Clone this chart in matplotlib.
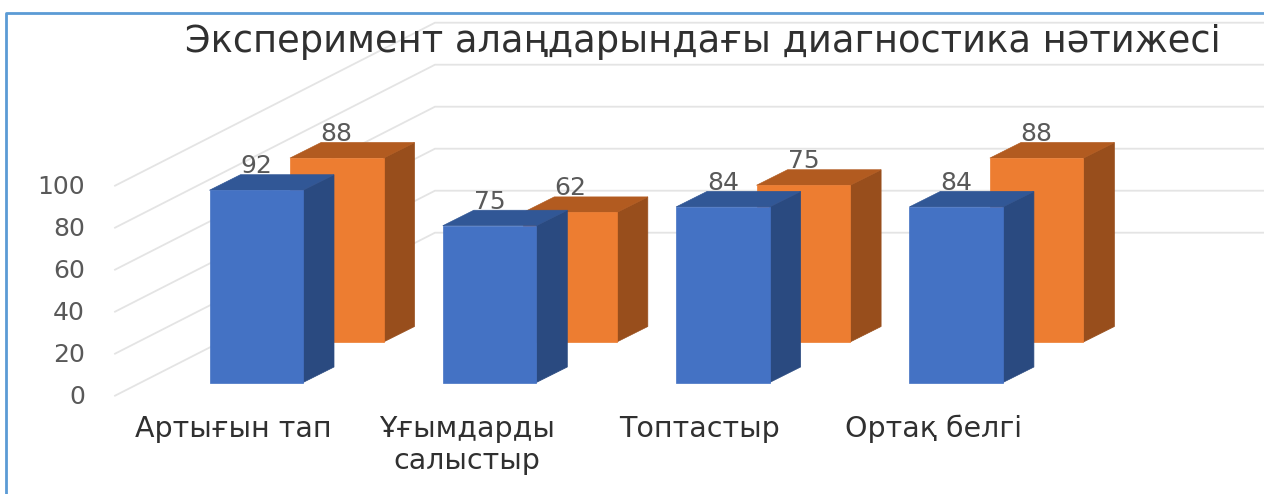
import matplotlib
matplotlib.use("Agg")
import matplotlib.pyplot as plt
from matplotlib.patches import Polygon

plt.rcParams['font.family'] = ['DejaVu Sans']

categories = ['Артығын тап', 'Ұғымдарды\nсалыстыр', 'Топтастыр', 'Ортақ белгі']
front_values = [92, 75, 84, 84]
back_values = [88, 62, 75, 88]
y_ticks = [0, 20, 40, 60, 80, 100]
title = 'Эксперимент алаңдарындағы диагностика нәтижесі'

# one category = 233.3 px, one value unit = 2.09 px, blue bar base is the origin
PX_X = 233.3
PX_Y = 2.09
BAR_W = 93.5 / PX_X
DEPTH_X = 31 / PX_X
DEPTH_Y = 15.5 / PX_Y
ROW_X = 80.5 / PX_X
ROW_Y = 40.5 / PX_Y

fig = plt.figure(figsize=(12.64, 4.94), dpi=100)
ax = fig.add_axes([0, 0, 1, 1])
ax.set_xlim(-209.5 / PX_X, (1264 - 209.5) / PX_X)
ax.set_ylim(-(494 - 382.5) / PX_Y, 382.5 / PX_Y)
ax.axis('off')


def draw_bar(x, base, value, front, top, side, z):
    h = base + value
    ax.add_patch(Polygon([(x + BAR_W, base), (x + BAR_W + DEPTH_X, base + DEPTH_Y), (x + BAR_W + DEPTH_X, h + DEPTH_Y), (x + BAR_W, h)],
                         fc=side, ec=side, lw=0.5, zorder=z))
    ax.add_patch(Polygon([(x, h), (x + BAR_W, h), (x + BAR_W + DEPTH_X, h + DEPTH_Y), (x + DEPTH_X, h + DEPTH_Y)],
                         fc=top, ec=top, lw=0.5, zorder=z))
    ax.add_patch(Polygon([(x, base), (x + BAR_W, base), (x + BAR_W, h), (x, h)],
                         fc=front, ec=front, lw=0.5, zorder=z))
    ax.text(x + BAR_W / 2, h + 24 / PX_Y, str(value), ha='center', va='center',
            fontsize=18, color='#595959', zorder=6)


# gridlines: slanted side wall then flat back wall
left_x = (115 - 209.5) / PX_X
corner_x = (435 - 209.5) / PX_X
right_x = (1264 - 209.5) / PX_X
floor_y = -(395.7 - 382.5) / PX_Y
for t in y_ticks:
    y0 = floor_y + t * 42.0 / 20 / PX_Y
    y1 = y0 + 163 / PX_Y
    ax.plot([left_x, corner_x, right_x], [y0, y1, y1], color='#e4e4e4', lw=1.3, zorder=1)
    ax.text((85 - 209.5) / PX_X, y0 - 1 / PX_Y, str(t), ha='right', va='center', fontsize=18, color='#595959')

label_x = (233 - 256) / PX_X + BAR_W / 2
for i in range(len(categories)):
    draw_bar(i + ROW_X, ROW_Y, back_values[i], '#ED7D31', '#B25B20', '#984E1C', 2)
    draw_bar(i, 0, front_values[i], '#4472C4', '#315796', '#2A4A80', 3)
    parts = categories[i].split('\n')
    ax.text(i + label_x, -(437 - 382.5) / PX_Y, parts[0],
            ha='center', va='baseline', fontsize=20.5, color='#303030')
    if len(parts) > 1:
        ax.text(i + label_x, -(469 - 382.5) / PX_Y, parts[1],
                ha='center', va='baseline', fontsize=20.5, color='#303030')

ax.text((703 - 209.5) / PX_X, (382.5 - 52) / PX_Y, title, ha='center', va='baseline',
        fontsize=26.5, color='#303030', zorder=7)

# chart frame, top and left only
frame_x = (6 - 209.5) / PX_X
frame_y = (382.5 - 13.5) / PX_Y
ax.plot([frame_x, frame_x, right_x], [ax.get_ylim()[0], frame_y, frame_y], color='#5B9BD5', lw=2, zorder=8)

fig.savefig('out.png', dpi=100)
